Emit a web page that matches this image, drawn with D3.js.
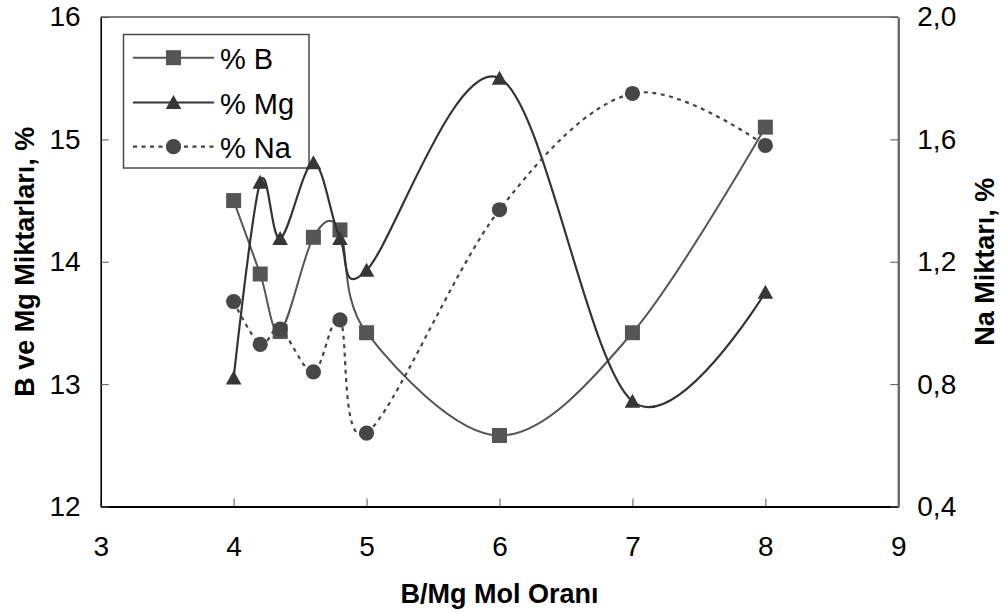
<!DOCTYPE html>
<html>
<head>
<meta charset="utf-8">
<script src="https://cdn.jsdelivr.net/npm/d3@7"></script>
<style>
  html, body { margin: 0; padding: 0; background: #fff; }
  svg { display: block; }
  text { font-family: "Liberation Sans", Arial, sans-serif; fill: #000; }
</style>
</head>
<body>
<svg id="chart" width="1002" height="612"></svg>
<script>
// B/Mg mole ratio for each sample
const ratios = [4, 4.2, 4.35, 4.6, 4.8, 5, 6, 7, 8];
// B and Mg content, % (left axis)
const boron = [14.50, 13.90, 13.43, 14.20, 14.26, 13.42, 12.58, 13.42, 15.10];
const magnesium = [13.05, 14.65, 14.19, 14.81, 14.19, 13.93, 15.50, 12.86, 13.75];
// Na content, % (right axis)
const sodium = [1.07, 0.93, 0.98, 0.84, 1.01, 0.64, 1.37, 1.75, 1.58];

const xTicks = [3, 4, 5, 6, 7, 8, 9];
const leftTicks = [12, 13, 14, 15, 16];
const rightTicks = [0.4, 0.8, 1.2, 1.6, 2.0];
const seriesNames = ["% B", "% Mg", "% Na"];

const svg = d3.select("#chart");
const W = 1002, H = 612;
const m = { left: 100.7, top: 17, right: 103.7, bottom: 105.5 };
const pw = W - m.left - m.right, ph = H - m.top - m.bottom;

const x = d3.scaleLinear().domain([3, 9]).range([m.left, m.left + pw]);
const yL = d3.scaleLinear().domain([12, 16]).range([m.top + ph, m.top]);
const yR = d3.scaleLinear().domain([0.4, 2.0]).range([m.top + ph, m.top]);

const comma = d3.formatLocale({ decimal: ",", thousands: ".", grouping: [3], currency: ["", ""] }).format(".1f");

// Top border of the plot area
svg.append("line")
  .attr("x1", x(3)).attr("x2", x(9))
  .attr("y1", yL(16)).attr("y2", yL(16))
  .attr("stroke", "#000").attr("stroke-width", 1.2);

// Axes (ticks point inward)
const gx = svg.append("g").attr("transform", `translate(0,${m.top + ph})`)
  .call(d3.axisBottom(x).tickValues(xTicks).tickFormat(d3.format("d"))
    .tickSizeInner(-8).tickSizeOuter(0).tickPadding(30));
const gl = svg.append("g").attr("transform", `translate(${m.left},0)`)
  .call(d3.axisLeft(yL).tickValues(leftTicks).tickFormat(d3.format("d"))
    .tickSizeInner(-8).tickSizeOuter(0).tickPadding(20));
const gr = svg.append("g").attr("transform", `translate(${m.left + pw},0)`)
  .call(d3.axisRight(yR).tickValues(rightTicks).tickFormat(comma)
    .tickSizeInner(-8).tickSizeOuter(0).tickPadding(19));

[gx, gl, gr].forEach(g => {
  g.selectAll("text").style("font-size", "28px").attr("font-family", null);
  g.attr("font-family", null).attr("font-size", null);
});
gx.select(".domain").attr("stroke", "#000").attr("stroke-width", 2.2);
gl.select(".domain").attr("stroke", "#000").attr("stroke-width", 1.6);
gr.select(".domain").attr("stroke", "#6b6b6b").attr("stroke-width", 2.4);
gx.selectAll(".tick line").attr("stroke", "#555").attr("stroke-width", 1);
gl.selectAll(".tick line").attr("stroke", "#555").attr("stroke-width", 1);
gr.selectAll(".tick line").attr("stroke", "#555").attr("stroke-width", 1);

// Axis titles
svg.append("text")
  .attr("x", x(6)).attr("y", 603)
  .attr("text-anchor", "middle")
  .style("font-size", "27px").style("font-weight", "bold")
  .text("B/Mg Mol Oranı");
svg.append("text")
  .attr("transform", `translate(34,${m.top + ph / 2}) rotate(-90)`)
  .attr("text-anchor", "middle")
  .style("font-size", "27px").style("font-weight", "bold")
  .text("B ve Mg Miktarları, %");
svg.append("text")
  .attr("transform", `translate(994,${m.top + ph / 2}) rotate(-90)`)
  .attr("text-anchor", "middle")
  .style("font-size", "27px").style("font-weight", "bold")
  .text("Na Miktarı, %");

// Marker shapes
const square = d3.symbol().type(d3.symbolSquare).size(15 * 15);
const triPath = "M0,-7.5L7.8,6.5L-7.8,6.5Z";
const circle = d3.symbol().type(d3.symbolCircle).size(Math.PI * 7.6 * 7.6);

const series = [
  { name: seriesNames[0], vals: boron, y: yL, color: "#555555", marker: "#555555", dash: null, shape: "square", w: 2 },
  { name: seriesNames[1], vals: magnesium, y: yL, color: "#333333", marker: "#363636", dash: null, shape: "tri", w: 2.2 },
  { name: seriesNames[2], vals: sodium, y: yR, color: "#444444", marker: "#474747", dash: "4,4.5", shape: "circle", w: 2.2 }
];

function drawMarker(g, shape, fill) {
  if (shape === "square") g.append("path").attr("d", square()).attr("fill", fill);
  else if (shape === "tri") g.append("path").attr("d", triPath).attr("fill", fill);
  else g.append("path").attr("d", circle()).attr("fill", fill);
}

// Legend
const legend = svg.append("g");
legend.append("rect")
  .attr("x", 123.5).attr("y", 34.5).attr("width", 185.5).attr("height", 133.5)
  .attr("fill", "#fff").attr("stroke", "#4a4a4a").attr("stroke-width", 1.5);
const rowY = [57.7, 102.5, 146.7];
series.forEach((s, i) => {
  const gi = legend.append("g");
  gi.append("line")
    .attr("x1", 133).attr("x2", 214).attr("y1", rowY[i]).attr("y2", rowY[i])
    .attr("stroke", s.color).attr("stroke-width", s.w)
    .attr("stroke-dasharray", s.dash);
  drawMarker(gi.append("g").attr("transform", `translate(173.5,${rowY[i]})`), s.shape, s.marker);
  gi.append("text")
    .attr("x", 220).attr("y", rowY[i] + 11)
    .style("font-size", "29px")
    .text(s.name);
});

// Smoothed lines and markers
const plot = svg.append("g");
series.forEach(s => {
  const pts = ratios.map((r, i) => ({ r, v: s.vals[i] }));
  const line = d3.line().x(d => x(d.r)).y(d => s.y(d.v)).curve(d3.curveCardinal.tension(0));
  plot.append("path")
    .attr("d", line(pts))
    .attr("fill", "none")
    .attr("stroke", s.color)
    .attr("stroke-width", s.w)
    .attr("stroke-dasharray", s.dash);
  pts.forEach(d => {
    drawMarker(plot.append("g").attr("transform", `translate(${x(d.r)},${s.y(d.v)})`), s.shape, s.marker);
  });
});
</script>
</body>
</html>
